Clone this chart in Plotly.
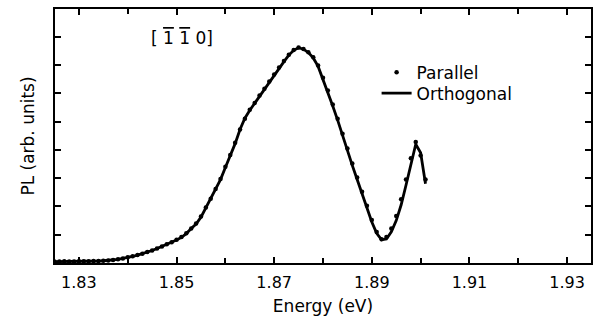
import plotly.graph_objects as go

energy = [1.825, 1.826, 1.827, 1.828, 1.829, 1.830, 1.831, 1.832, 1.833, 1.834,
          1.835, 1.836, 1.837, 1.838, 1.839, 1.840, 1.841, 1.842, 1.843, 1.844,
          1.845, 1.846, 1.847, 1.848, 1.849, 1.850, 1.851, 1.852, 1.853, 1.854,
          1.855, 1.856, 1.857, 1.858, 1.859, 1.860, 1.861, 1.862, 1.863, 1.864,
          1.865, 1.866, 1.867, 1.868, 1.869, 1.870, 1.871, 1.872, 1.873, 1.874,
          1.875, 1.876, 1.877, 1.878, 1.879, 1.880, 1.881, 1.882, 1.883, 1.884,
          1.885, 1.886, 1.887, 1.888, 1.889, 1.890, 1.891, 1.892, 1.893, 1.894,
          1.895, 1.896, 1.897, 1.898, 1.899, 1.900, 1.901]

orthogonal = [0.05, 0.05, 0.05, 0.05, 0.05, 0.05, 0.06, 0.06, 0.06, 0.07,
              0.08, 0.09, 0.10, 0.13, 0.16, 0.19, 0.23, 0.28, 0.33, 0.38,
              0.44, 0.51, 0.58, 0.65, 0.73, 0.81, 0.91, 1.04, 1.22, 1.38,
              1.62, 1.95, 2.25, 2.60, 2.95, 3.38, 3.80, 4.22, 4.72, 5.12,
              5.40, 5.65, 5.90, 6.15, 6.40, 6.65, 6.90, 7.12, 7.35, 7.52,
              7.61, 7.56, 7.44, 7.25, 6.95, 6.50, 6.05, 5.55, 5.05, 4.50,
              3.98, 3.45, 2.95, 2.45, 1.95, 1.45, 1.05, 0.82, 0.85, 1.10,
              1.50, 2.05, 2.75, 3.45, 4.20, 3.90, 2.80]

parallel = [0.05, 0.05, 0.06, 0.05, 0.05, 0.06, 0.06, 0.06, 0.07, 0.07,
            0.08, 0.09, 0.11, 0.13, 0.16, 0.20, 0.24, 0.28, 0.33, 0.39,
            0.44, 0.51, 0.58, 0.66, 0.73, 0.82, 0.92, 1.05, 1.22, 1.40,
            1.64, 1.96, 2.27, 2.62, 2.97, 3.40, 3.82, 4.25, 4.72, 5.10,
            5.42, 5.66, 5.92, 6.16, 6.42, 6.66, 6.91, 7.14, 7.36, 7.53,
            7.62, 7.57, 7.45, 7.27, 6.98, 6.55, 6.10, 5.60, 5.10, 4.57,
            4.05, 3.52, 3.02, 2.52, 2.02, 1.52, 1.10, 0.84, 0.92, 1.22,
            1.66, 2.25, 2.95, 3.70, 4.28, 3.80, 2.95]

x_ticks = [1.83, 1.85, 1.87, 1.89, 1.91, 1.93]
x_tick_labels = ["1.83", "1.85", "1.87", "1.89", "1.91", "1.93"]
y_ticks = [1, 2, 3, 4, 5, 6, 7, 8]

FONT = "DejaVu Sans"

fig = go.Figure()
fig.add_trace(go.Scatter(
    x=energy, y=orthogonal, mode="lines", name="Orthogonal",
    line=dict(color="black", width=2.8), legend="legend2"))
fig.add_trace(go.Scatter(
    x=energy, y=parallel, mode="markers", name="Parallel",
    marker=dict(color="black", size=4.5), legend="legend"))

axis_common = dict(
    showgrid=False, zeroline=False, showline=True, linecolor="black",
    linewidth=2, mirror="allticks", ticks="inside", tickcolor="black",
    tickwidth=1.5,
)

fig.update_xaxes(
    range=[1.8251, 1.9349], tickvals=x_ticks, ticktext=x_tick_labels,
    ticklen=6,
    minor=dict(dtick=0.01, tick0=1.83, ticks="inside", ticklen=5,
               tickcolor="black", tickwidth=1.5, showgrid=False),
    title=dict(text="Energy (eV)", font=dict(size=17, family=FONT, color="black"),
               standoff=9),
    tickfont=dict(size=16, family=FONT, color="black"),
    ticklabelstandoff=4,
    **axis_common)
fig.update_yaxes(
    range=[0, 8.98], tickvals=y_ticks, showticklabels=False, ticklen=6,
    title=dict(text="PL (arb. units)", font=dict(size=17, family=FONT, color="black"),
               standoff=14),
    **axis_common)

fig.add_annotation(
    x=0.237, y=0.885, xref="paper", yref="paper",
    xanchor="center", yanchor="middle",
    text="[ <span style='text-decoration:overline'>1</span> "
         "<span style='text-decoration:overline'>1</span> 0]",
    showarrow=False,
    font=dict(size=17, family=FONT, color="black"))

legend_common = dict(
    xanchor="left", yanchor="middle", bgcolor="rgba(0,0,0,0)", borderwidth=0,
    font=dict(size=17, family=FONT, color="black"))

fig.update_layout(
    width=600, height=322,
    margin=dict(l=55, r=7, t=8, b=59),
    paper_bgcolor="white", plot_bgcolor="white",
    showlegend=True,
    legend=dict(x=0.6, y=0.749, **legend_common),
    legend2=dict(x=0.6, y=0.667, **legend_common),
)

fig.write_html("out.html")
